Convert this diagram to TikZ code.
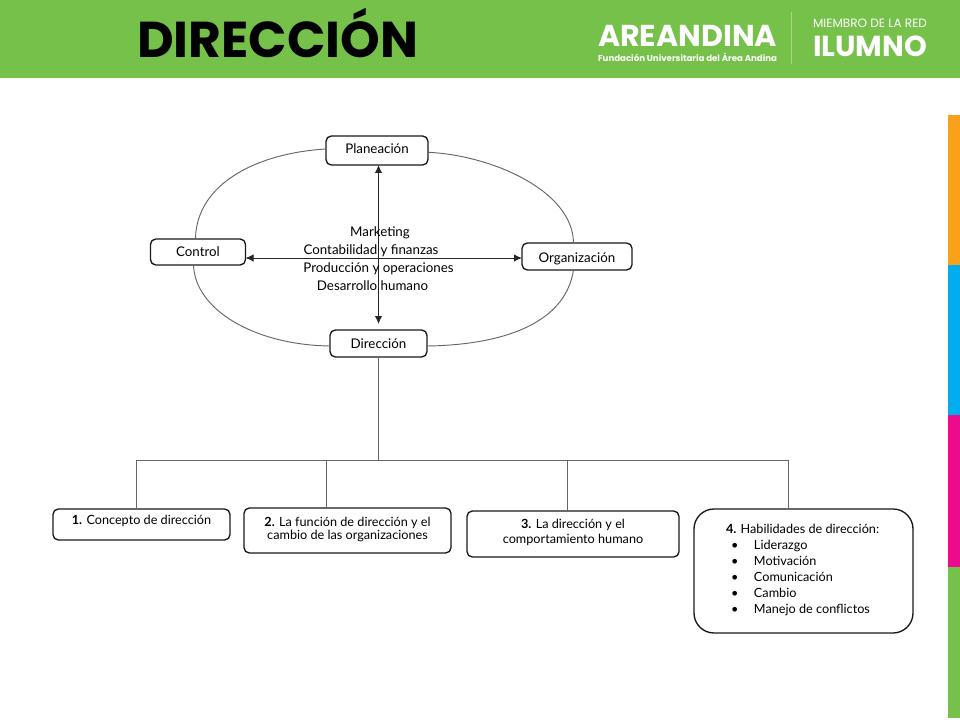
\documentclass[tikz,border=0pt]{standalone}
\usepackage{fontspec}
\usepackage{graphicx}
\setmainfont{Lato}
\newfontfamily\logofont{Poppins}
\usetikzlibrary{arrows.meta,calc}
\definecolor{hdrgreen}{HTML}{76C14A}
\definecolor{barorange}{HTML}{F9A11B}
\definecolor{barblue}{HTML}{00AEEF}
\definecolor{barpink}{HTML}{EC0B8C}
\definecolor{bargreen}{HTML}{76C14A}
\definecolor{sepgreen}{HTML}{A6D98A}
\definecolor{linegray}{HTML}{666666}
\newlength\pxu \setlength\pxu{0.75pt}
\newcommand\yb[2]{\raisebox{#1\pxu}[0pt][0pt]{#2}}
\newcommand\fitw[2]{\resizebox{#1\pxu}{!}{#2}}
\newcommand\bul{\hbox to 44\pxu{\hspace*{21\pxu}•\hss}}
\tikzset{
  x=0.75pt,y=-0.75pt,
  boxnode/.style={draw=black!90,line width=1pt,rounded corners=4pt,fill=white,inner sep=0pt,outer sep=0pt,font=\fontsize{9.5}{12}\selectfont,align=center},
  topbox/.style={boxnode,font=\fontsize{10}{12}\selectfont},
  freetext/.style={inner sep=0pt,outer sep=0pt,anchor=base,font=\fontsize{10}{12}\selectfont},
  logotext/.style={inner sep=0pt,outer sep=0pt,anchor=base west,text=white},
  orbit/.style={draw=linegray,line width=0.7pt},
  treeline/.style={draw=linegray,line width=0.75pt},
  axisline/.style={draw=black!85,line width=0.7pt,{Latex[length=6pt,width=5.5pt]}-{Latex[length=6pt,width=5.5pt]}},
}
\begin{document}
\begin{tikzpicture}
\useasboundingbox (0,0) rectangle (960,720);
\fill[white] (0,0) rectangle (960,720);
% header
\fill[hdrgreen] (0,0) rectangle (960,78.5);
\node[inner sep=0pt,outer sep=0pt,anchor=base west] (title) at (137,58) {\fitw{281}{\logofont\bfseries DIRECCIÓN}};
\node[logotext] (logoa) at (598,47) {\fitw{179}{\logofont\bfseries AREANDINA}};
\node[logotext] (logob) at (598,62) {\fitw{179}{\logofont\bfseries Fundación Universitaria del Área Andina}};
\node[logotext] (logoc) at (813,28) {\fitw{114}{\logofont MIEMBRO DE LA RED}};
\node[logotext] (logod) at (813,56.5) {\fitw{114}{\logofont\bfseries ILUMNO}};
\draw[sepgreen,line width=0.7pt] (791,12) -- (791,64);
% side bar
\fill[barorange] (948,115) rectangle (960,265);
\fill[barblue] (948,265) rectangle (960,415);
\fill[barpink] (948,415) rectangle (960,567);
\fill[bargreen] (948,567) rectangle (960,718);
% top nodes
\node[topbox,minimum width=102\pxu,minimum height=29\pxu] (plan) at (377,150.5) {\yb{-3.5}{Planeación}};
\node[topbox,minimum width=95\pxu,minimum height=26\pxu] (ctrl) at (198,252) {\yb{-5}{Control}};
\node[topbox,minimum width=110\pxu,minimum height=27\pxu] (orga) at (577,256.5) {\yb{-5.5}{Organización}};
\node[topbox,minimum width=97\pxu,minimum height=27\pxu] (dire) at (378.5,343.5) {\yb{-4.5}{Dirección}};
\coordinate (hy) at (0,258);
\coordinate (tl) at (195.5,238);
\coordinate (tr) at (573.5,243);
\coordinate (bl) at (193.5,265);
\coordinate (br) at (573.5,270);
\draw[orbit] ($(plan.west)+(0,-1.5)$) .. controls (258,153) and (197,183) .. (tl);
\draw[orbit] ($(plan.east)+(0,1.8)$) .. controls (490,155) and (573,190) .. (tr);
\draw[orbit] (bl) .. controls (195,310) and (255,345) .. ($(dire.west)+(0,2.5)$);
\draw[orbit] (br) .. controls (565,325) and (500,345) .. ($(dire.east)+(0,2.5)$);
\draw[axisline,shorten >=6\pxu] (plan.south -| dire.south) -- (dire.north);
\draw[axisline] (ctrl.east |- hy) -- (orga.west |- hy);
\node[freetext] (t1) at (380,237) {Marketing};
\node[freetext] (t2) at (371,255) {Contabilidad y finanzas};
\node[freetext] (t3) at (378.5,273) {Producción y operaciones};
\node[freetext] (t4) at (372.5,291) {Desarrollo humano};
% bottom boxes
\node[boxnode,minimum width=177\pxu,minimum height=31\pxu] (b1) at (141.5,524.5) {\yb{0.5}{\textbf{1.} Concepto de dirección}};
\node[boxnode,minimum width=207\pxu,minimum height=45\pxu] (b2) at (347.5,530.5) {\yb{-8.5}{\parbox[b]{200\pxu}{\centering\baselineskip=13\pxu \textbf{2.} La función de dirección y el\\cambio de las organizaciones}}};
\node[boxnode,minimum width=212\pxu,minimum height=46\pxu] (b3) at (573,534) {\yb{-9}{\parbox[b]{200\pxu}{\centering\baselineskip=15\pxu \textbf{3.} La dirección y el\\comportamiento humano}}};
\node[boxnode,rounded corners=15pt,minimum width=219\pxu,minimum height=124\pxu] (b4) at (803.5,571) {\yb{-42}{\parbox[b]{187\pxu}{\baselineskip=16\pxu \hspace*{16\pxu}\textbf{4.} Habilidades de dirección:\\\bul Liderazgo\\\bul Motivación\\\bul Comunicación\\\bul Cambio\\\bul Manejo de conflictos}}};
% tree
\coordinate (bus) at (379,460);
\coordinate (d1) at (136,460);
\coordinate (d2) at (326,460);
\coordinate (d3) at (567,460);
\coordinate (d4) at (788,460);
\draw[treeline] (dire.south) -- (dire.south |- bus);
\draw[treeline] (d1) -- (d4);
\draw[treeline] (d1) -- (d1 |- b1.north);
\draw[treeline] (d2) -- (d2 |- b2.north);
\draw[treeline] (d3) -- (d3 |- b3.north);
\draw[treeline] (d4) -- (d4 |- b4.north);
\end{tikzpicture}
\end{document}
